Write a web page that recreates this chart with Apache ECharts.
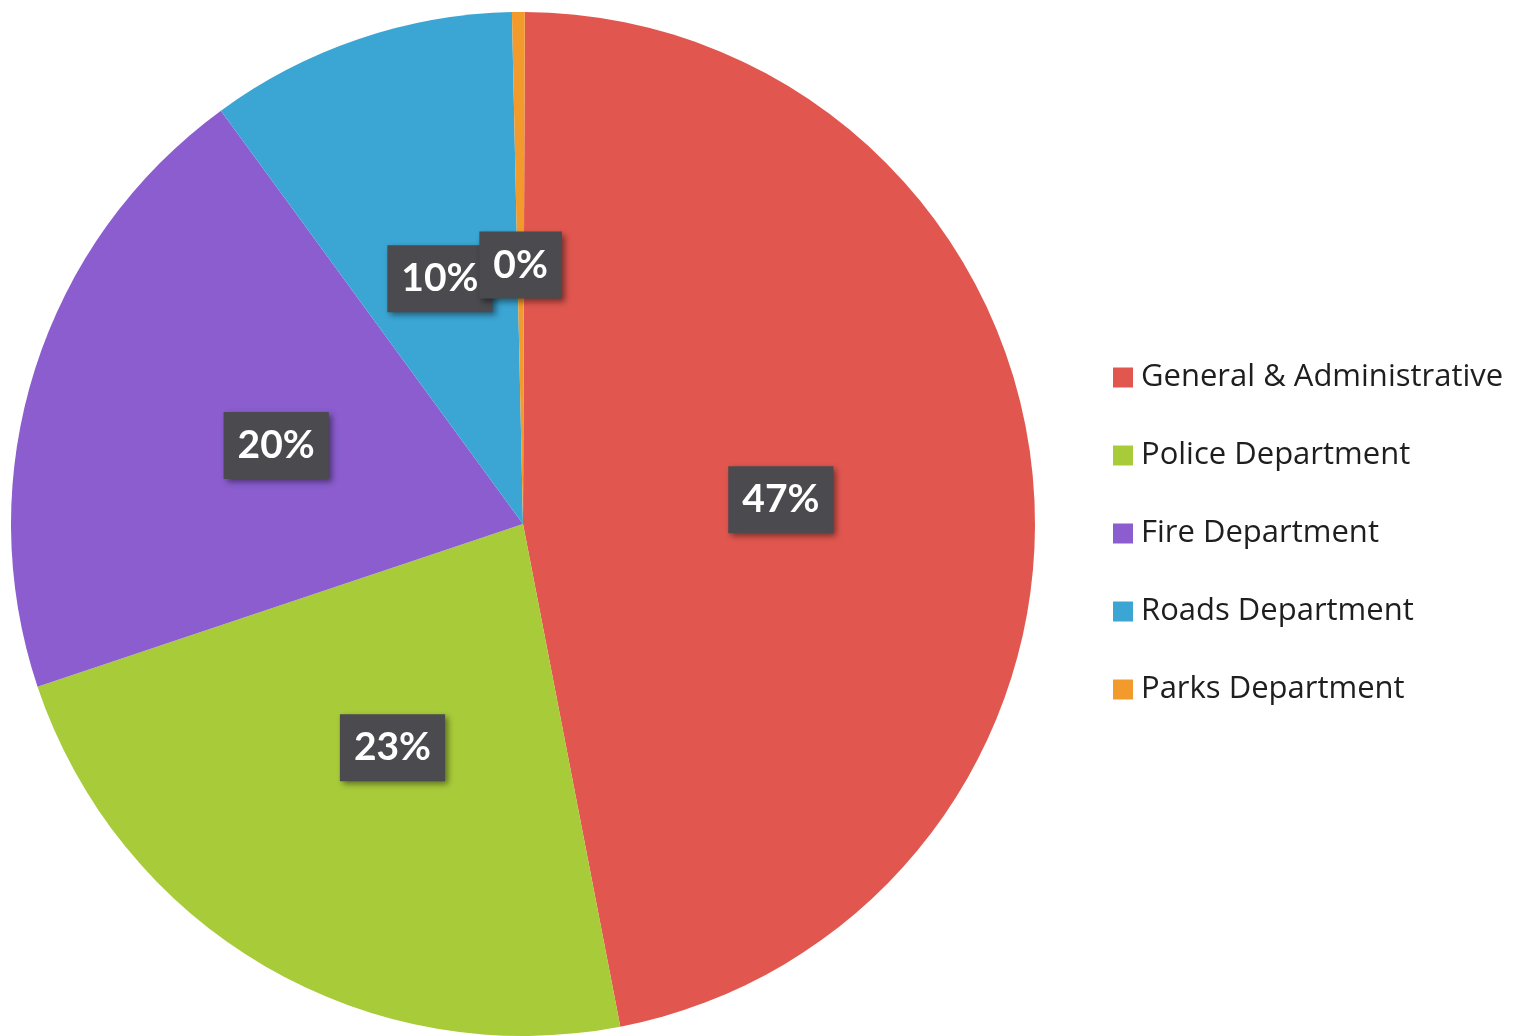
<!DOCTYPE html>
<html>
<head>
<meta charset="utf-8">
<script src="https://cdn.jsdelivr.net/npm/echarts@6/dist/echarts.min.js"></script>
<style>
  html, body { margin: 0; padding: 0; background: #fff; }
  #chart { width: 1522px; height: 1036px; }
</style>
</head>
<body>
<div id="chart"></div>
<script>
// departments, clockwise from 12 o'clock
var categories = ['General & Administrative', 'Police Department', 'Fire Department', 'Roads Department', 'Parks Department'];
// share of total
var shares = [46.9, 22.9, 20.1, 9.7, 0.4];
var colors = ['#e1574f', '#a8cb3a', '#8b5dcf', '#3ba6d4', '#f29b2c'];

var seriesData = categories.map(function (name, i) {
  return { name: name, value: shares[i] };
});

var chart = echarts.init(document.getElementById('chart'));
chart.setOption({
  animation: false,
  color: colors,
  legend: {
    orient: 'vertical',
    left: 1113,
    top: 362,
    padding: 0,
    itemWidth: 20,
    itemHeight: 20,
    itemGap: 47,
    icon: 'rect',
    textStyle: {
      fontFamily: 'Open Sans',
      fontSize: 31,
      lineHeight: 30,
      color: '#1e1e1e',
      padding: [0, 0, 0, 3]
    },
    data: categories
  },
  series: [{
    type: 'pie',
    center: [523, 524],
    radius: 512,
    startAngle: 89.8,
    clockwise: true,
    minShowLabelAngle: 0,
    labelLayout: { hideOverlap: false },
    label: {
      show: true,
      position: 'inside',
      formatter: function (p) { return Math.round(p.percent) + '%'; },
      fontFamily: 'Lato',
      fontWeight: 'bold',
      fontSize: 39,
      color: '#fff',
      backgroundColor: '#4b4a4f',
      padding: [15, 14, 13, 14],
      shadowColor: 'rgba(0,0,0,0.45)',
      shadowBlur: 6,
      shadowOffsetX: 3,
      shadowOffsetY: 3
    },
    labelLine: { show: false },
    emphasis: { disabled: true },
    itemStyle: { borderWidth: 0 },
    data: seriesData
  }]
});
</script>
</body>
</html>
